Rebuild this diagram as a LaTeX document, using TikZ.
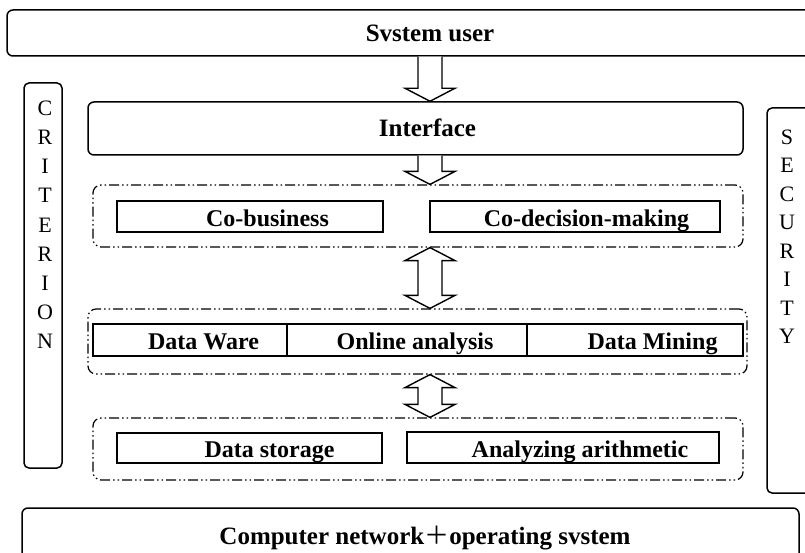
\documentclass[tikz,border=0pt]{standalone}
\usepackage{fontspec}
\setmainfont{Liberation Serif}
\newfontfamily\cjk{Noto Sans CJK SC}
\usetikzlibrary{calc}
\newcommand{\blkdown}[2]{%
  \draw[blockarrow] ($(#1)+(-12,0)$) -- ($(#2)+(-12,-13)$) -- ($(#2)+(-25,-13)$) -- (#2)
    -- ($(#2)+(25,-13)$) -- ($(#2)+(12,-13)$) -- ($(#1)+(12,0)$);}
\newcommand{\blkboth}[2]{%
  \draw[blockarrow] (#1) -- ($(#1)+(25,13)$) -- ($(#1)+(12,13)$) -- ($(#2)+(12,-13)$)
    -- ($(#2)+(25,-13)$) -- (#2) -- ($(#2)+(-25,-13)$) -- ($(#2)+(-12,-13)$)
    -- ($(#1)+(-12,13)$) -- ($(#1)+(-25,13)$) -- cycle;}
\begin{document}
\begin{tikzpicture}[x=1pt,y=-1pt,
  mainbox/.style={draw, line width=1.5pt, rounded corners=6pt, inner sep=0pt,
    text height=19pt, text depth=2pt,
    font=\fontsize{25}{30}\selectfont\bfseries},
  itembox/.style={draw, line width=1.4pt, inner sep=0pt,
    text height=20pt, text depth=1pt,
    font=\fontsize{24}{28}\selectfont\bfseries},
  groupbox/.style={draw, line width=1.2pt, rounded corners=8pt, inner sep=0pt,
    dash pattern=on 10pt off 3pt on 1.5pt off 3pt on 1.5pt off 3pt},
  sidebox/.style={draw, line width=1.5pt, rounded corners=5pt, inner sep=0pt},
  sidetext/.style={align=center, inner sep=0pt, font=\fontsize{22}{29.2}\selectfont},
  sidetextb/.style={align=center, inner sep=0pt, font=\fontsize{22}{28.5}\selectfont},
  blockarrow/.style={draw, line width=1.4pt, fill=white, line join=miter}]
\useasboundingbox (0,0) rectangle (805,553);
\begin{scope}
\clip (0,0) rectangle (805,553);
% main boxes
\node[mainbox, minimum width=846pt, minimum height=46pt] (user) at (430,33) {Svstem user};
\node[mainbox, minimum width=655pt, minimum height=53pt] (iface) at (415.5,128.5) {\hspace*{24pt}Interface};
\node[mainbox, minimum width=777pt, minimum height=62pt, text height=17pt, text depth=7pt] (os) at (410.5,539)
  {\hspace*{29pt}Computer network{\cjk\mdseries ＋}operating svstem};
% side boxes
\node[sidebox, minimum width=38pt, minimum height=385pt] (crit) at (43,275.5) {};
\node[sidetext] (crittext) at (45,224.8) {C\\R\\I\\T\\E\\R\\I\\O\\N};
\node[sidebox, minimum width=63pt, minimum height=385pt] (sec) at (798.5,300.5) {};
\node[sidetextb] (sectext) at (787,236.8) {S\\E\\C\\U\\R\\I\\T\\Y};
% group 1
\node[groupbox, minimum width=650pt, minimum height=62pt] (g1) at (418,216) {};
\node[itembox, minimum width=266pt, minimum height=31pt] (cobus) at (250,216.5) {\hspace*{35pt}Co-business};
\node[itembox, minimum width=290pt, minimum height=31pt] (codec) at (575,216.5) {\hspace*{23pt}Co-decision-making};
% group 2
\node[groupbox, minimum width=659pt, minimum height=65pt] (g2) at (417.5,341.5) {};
\node[itembox, minimum width=194pt, minimum height=32pt] (dware) at (190,340) {\hspace*{27pt}Data Ware};
\node[itembox, minimum width=240pt, minimum height=32pt] (olap) at (407,340) {\hspace*{16pt}Online analysis};
\node[itembox, minimum width=216pt, minimum height=32pt] (dmine) at (635,340) {\hspace*{35pt}Data Mining};
% group 3
\node[groupbox, minimum width=650pt, minimum height=62pt] (g3) at (418,449) {};
\node[itembox, minimum width=265pt, minimum height=30pt] (dstore) at (249.5,448) {\hspace*{40pt}Data storage};
\node[itembox, minimum width=312pt, minimum height=31pt] (arith) at (563,447.5) {\hspace*{34pt}Analyzing arithmetic};
% arrows
\coordinate (ax) at (430,0);
\coordinate (a1s) at (ax |- user.south);
\coordinate (a1e) at (ax |- iface.north);
\coordinate (a2s) at (ax |- iface.south);
\coordinate (a2e) at (ax |- g1.north);
\coordinate (d1s) at (ax |- g1.south);
\coordinate (d1e) at (ax |- g2.north);
\coordinate (d2s) at (ax |- g2.south);
\coordinate (d2e) at (ax |- g3.north);
\blkdown{a1s}{a1e}
\blkdown{a2s}{a2e}
\blkboth{d1s}{d1e}
\blkboth{d2s}{d2e}
\end{scope}
\end{tikzpicture}
\end{document}
